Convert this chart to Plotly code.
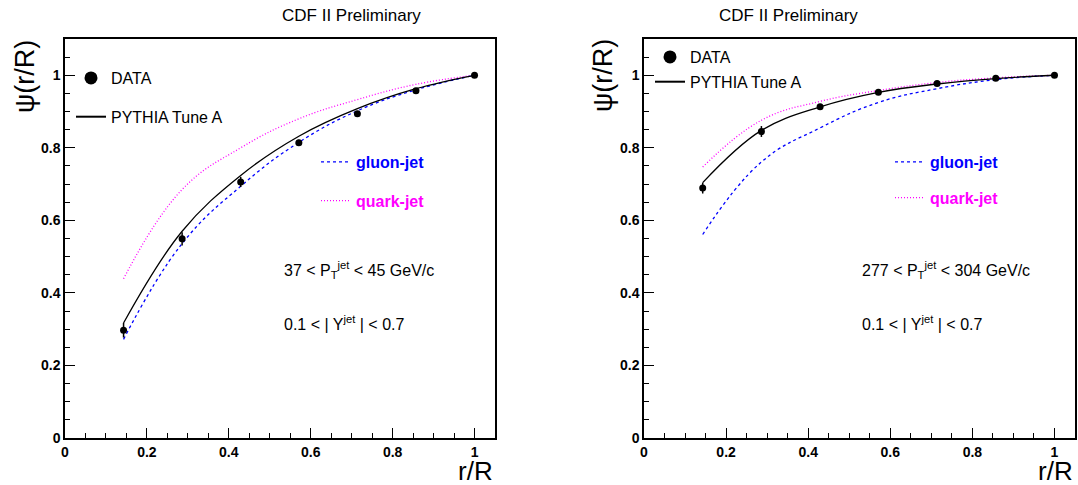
import plotly.graph_objects as go

# ---------------- data ----------------
r_over_R = [0.143, 0.286, 0.429, 0.571, 0.714, 0.857, 1.0]

# left panel: 37 < pT < 45 GeV/c
data_lo = [0.297, 0.549, 0.706, 0.814, 0.894, 0.957, 1.0]
err_lo = [0.020, 0.018, 0.014, 0.008, 0.007, 0.005, 0.0]
pythia_lo = [0.317, 0.570, 0.724, 0.832, 0.908, 0.963, 1.0]
gluon_lo = [0.272, 0.536, 0.694, 0.815, 0.902, 0.960, 1.0]
quark_lo = [0.439, 0.685, 0.800, 0.880, 0.933, 0.975, 1.0]

# right panel: 277 < pT < 304 GeV/c
data_hi = [0.689, 0.845, 0.913, 0.953, 0.977, 0.992, 1.0]
err_hi = [0.015, 0.015, 0.008, 0.006, 0.004, 0.003, 0.0]
pythia_hi = [0.704, 0.848, 0.913, 0.953, 0.976, 0.991, 1.0]
gluon_hi = [0.561, 0.761, 0.855, 0.925, 0.963, 0.988, 1.0]
quark_hi = [0.747, 0.876, 0.928, 0.958, 0.980, 0.993, 1.0]

tick_vals = [0, 0.2, 0.4, 0.6, 0.8, 1.0]
tick_text = ["0", "0.2", "0.4", "0.6", "0.8", "1"]

FONT = "Liberation Sans, Arial, sans-serif"
BLUE = "#0000ff"
MAG = "#ff00ff"

fig = go.Figure()


def add_panel(xa, ya, data, err, pythia, gluon, quark, leg_a, leg_b):
    fig.add_trace(go.Scatter(
        x=r_over_R, y=quark, mode="lines",
        line=dict(color=MAG, width=1.3, dash="1px,2px", shape="spline", smoothing=1.2),
        xaxis=xa, yaxis=ya, showlegend=False))
    fig.add_trace(go.Scatter(
        x=r_over_R, y=gluon, mode="lines",
        line=dict(color=BLUE, width=1.3, dash="3px,3px", shape="spline", smoothing=1.2),
        xaxis=xa, yaxis=ya, showlegend=False))
    fig.add_trace(go.Scatter(
        x=r_over_R, y=pythia, mode="lines",
        line=dict(color="black", width=1.3, shape="spline", smoothing=1.1),
        xaxis=xa, yaxis=ya, showlegend=False))
    fig.add_trace(go.Scatter(
        x=r_over_R, y=data, mode="markers", marker=dict(color="black", size=7),
        error_y=dict(type="data", array=err, visible=True, color="black", thickness=1.5, width=0),
        xaxis=xa, yaxis=ya, showlegend=False))
    # legend entries
    fig.add_trace(go.Scatter(x=[None], y=[None], mode="markers", name="DATA",
                             marker=dict(color="black", size=13), legend=leg_a, legendgroup=leg_a + "d",
                             xaxis=xa, yaxis=ya))
    fig.add_trace(go.Scatter(x=[None], y=[None], mode="lines", name="PYTHIA Tune A",
                             line=dict(color="black", width=2), legend=leg_a, legendgroup=leg_a + "p",
                             xaxis=xa, yaxis=ya))
    fig.add_trace(go.Scatter(x=[None], y=[None], mode="lines",
                             name="<span style='color:#0000ff'><b>gluon-jet</b></span>",
                             line=dict(color=BLUE, width=1.3, dash="3px,3px"), legend=leg_b,
                             legendgroup=leg_b + "g", xaxis=xa, yaxis=ya))
    fig.add_trace(go.Scatter(x=[None], y=[None], mode="lines",
                             name="<span style='color:#ff00ff'><b>quark-jet</b></span>",
                             line=dict(color=MAG, width=1.3, dash="1px,2px"), legend=leg_b,
                             legendgroup=leg_b + "q", xaxis=xa, yaxis=ya))


add_panel("x", "y", data_lo, err_lo, pythia_lo, gluon_lo, quark_lo, "legend", "legend2")
add_panel("x2", "y2", data_hi, err_hi, pythia_hi, gluon_hi, quark_hi, "legend3", "legend4")

W, H = 1078, 485
ydom = [1 - 438 / H, 1 - 39 / H]
xdom_l = [65 / W, 495 / W]
xdom_r = [644 / W, 1075 / W]

axis_common = dict(
    showline=True, mirror=True, linecolor="black", linewidth=1.5,
    ticks="inside", ticklen=10, tickwidth=1, tickcolor="black",
    minor=dict(ticks="inside", ticklen=5, dtick=0.05, tickcolor="black", tickwidth=1),
    tickvals=tick_vals, ticktext=tick_text,
    tickfont=dict(family=FONT, size=14, color="black", weight="bold"),
    showgrid=False, zeroline=False, automargin=False,
)

fig.update_layout(
    width=W, height=H,
    margin=dict(l=0, r=0, t=0, b=0, autoexpand=False),
    paper_bgcolor="white", plot_bgcolor="white",
    xaxis=dict(domain=xdom_l, range=[0, 1.05], anchor="y", **axis_common),
    yaxis=dict(domain=ydom, range=[0, 1.1], anchor="x", **axis_common),
    xaxis2=dict(domain=xdom_r, range=[0, 1.05], anchor="y2", **axis_common),
    yaxis2=dict(domain=ydom, range=[0, 1.1], anchor="x2", **axis_common),
)

leg_common = dict(bgcolor="rgba(0,0,0,0)", borderwidth=0, xanchor="left", yanchor="top",
                  font=dict(family=FONT, size=16, color="black"), itemclick=False)
fig.update_layout(
    legend=dict(x=71 / W, y=1 - 61 / H, tracegroupgap=15, **leg_common),
    legend2=dict(x=316 / W, y=1 - 145 / H, tracegroupgap=15, **leg_common),
    legend3=dict(x=650 / W, y=1 - 40 / H, tracegroupgap=1, **leg_common),
    legend4=dict(x=890 / W, y=1 - 145 / H, tracegroupgap=12, **leg_common),
)

ann = []
for cx in [(65 + 495) / 2 / W, (644 + 1075) / 2 / W]:
    ann.append(dict(text="CDF II Preliminary", x=cx, y=1 - 15 / H, xref="paper", yref="paper",
                    yanchor="middle", showarrow=False, font=dict(family=FONT, size=17, color="black")))
for rx in [495 / W, 1075 / W]:
    ann.append(dict(text="r/R", x=rx, y=1 - 471 / H, xref="paper", yref="paper", xanchor="right",
                    yanchor="middle", showarrow=False, font=dict(family=FONT, size=26, color="black")))
for lx in [25 / W, 603 / W]:
    ann.append(dict(text="ψ(r/R)", x=lx, y=1 - 76 / H, xref="paper", yref="paper", textangle=-90,
                    xanchor="center", yanchor="middle", showarrow=False,
                    font=dict(family=FONT, size=27, color="black")))
ann.append(dict(text="37 < P<sub>T</sub><sup>jet</sup> < 45 GeV/c", x=282 / W, y=1 - 270 / H,
                xref="paper", yref="paper", xanchor="left", yanchor="middle", showarrow=False,
                font=dict(family=FONT, size=16, color="black")))
ann.append(dict(text="0.1 < | Y<sup>jet</sup> | < 0.7", x=282 / W, y=1 - 323 / H,
                xref="paper", yref="paper", xanchor="left", yanchor="middle", showarrow=False,
                font=dict(family=FONT, size=16, color="black")))
ann.append(dict(text="277 < P<sub>T</sub><sup>jet</sup> < 304 GeV/c", x=860 / W, y=1 - 270 / H,
                xref="paper", yref="paper", xanchor="left", yanchor="middle", showarrow=False,
                font=dict(family=FONT, size=16, color="black")))
ann.append(dict(text="0.1 < | Y<sup>jet</sup> | < 0.7", x=860 / W, y=1 - 323 / H,
                xref="paper", yref="paper", xanchor="left", yanchor="middle", showarrow=False,
                font=dict(family=FONT, size=16, color="black")))
fig.update_layout(annotations=ann)

fig.write_html("out.html", config={"displayModeBar": False},
               post_script="document.body.style.margin='0';document.body.style.overflow='hidden';")
